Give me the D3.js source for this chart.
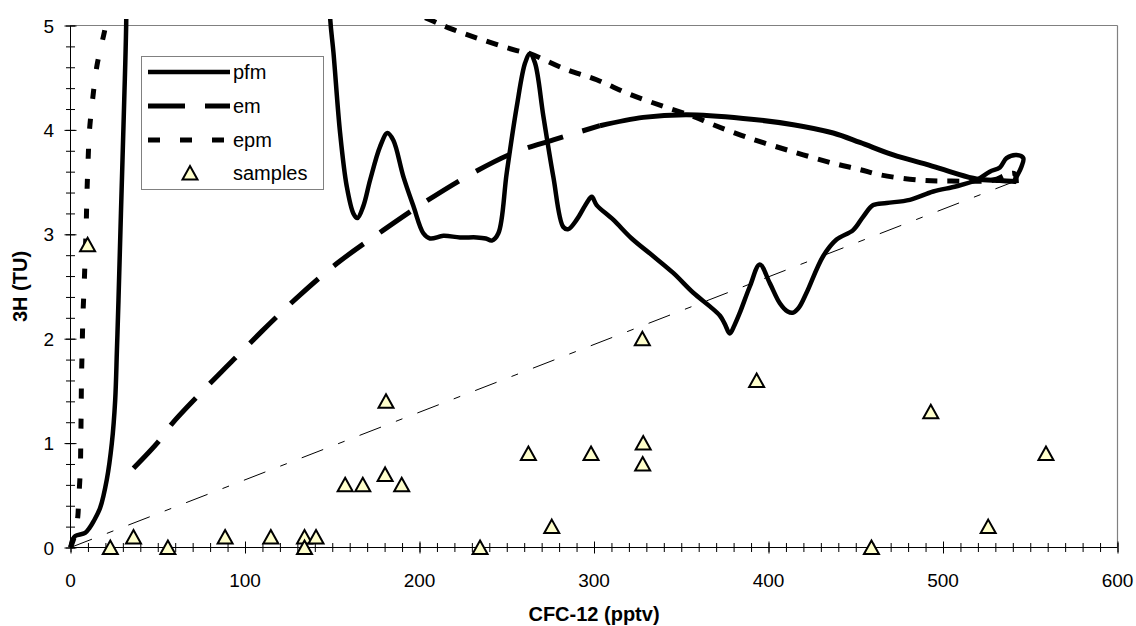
<!DOCTYPE html>
<html><head><meta charset="utf-8">
<script src="https://cdn.jsdelivr.net/npm/d3@7"></script>
<style>body{margin:0;background:#fff}svg{display:block;font-family:"Liberation Sans",Arial,sans-serif}</style>
</head><body><svg id="c" width="1136" height="626"></svg>
<script>
// ---- data ----
const pfmX = [0,1,2.7,8.4,11,13.2,17,20.8,23.7,25.6,26.6,27.5,28.9,30.8,31.9,34,60,100,135,146.5,148.8,150.7,154.5,158.3,162.1,164.4,167.8,171.7,177.4,181.6,185,190.8,196.5,202.2,206,213.7,223.2,232.8,238,241.4,245.2,250,255.7,260.5,263.3,266.2,271,276.7,282.4,285.3,290.1,295.8,298.7,301.5,311,321.6,334,345.4,356.9,366.4,372.2,375,377.8,380.5,383.6,389.3,395,400.8,406.5,411,414.2,417.5,421.8,431.3,439,448.5,454.3,460,467.7,481,494.4,507.8,519.2,526.8,532.6,536.4,542.1,546,545,542.1,540.2];
const pfmY = [0,0.07,0.11,0.14,0.19,0.25,0.38,0.65,1.0,1.41,1.89,2.37,3.2,4.29,5.0,8,40,45,15,6.2,5.07,4.74,3.97,3.46,3.2,3.155,3.27,3.52,3.84,3.97,3.9,3.55,3.27,3.01,2.96,2.985,2.97,2.97,2.96,2.94,3.01,3.59,4.22,4.64,4.73,4.64,4.13,3.55,3.07,3.05,3.14,3.30,3.36,3.28,3.14,2.96,2.79,2.63,2.44,2.31,2.22,2.14,2.05,2.13,2.25,2.5,2.71,2.53,2.34,2.26,2.25,2.3,2.44,2.79,2.95,3.04,3.17,3.28,3.30,3.33,3.41,3.46,3.52,3.60,3.64,3.73,3.76,3.73,3.65,3.55,3.49];
const emX = [36.1,50.4,58.1,86.7,95.3,109.6,118.2,131.6,152.6,179.3,203.2,230.9,253.8,276.7,303.4,328.2,353.1,385.5,414.2,437.1,452.4,471.5,490.6,505.8,519.2,532.6,542.1];
const emY = [0.76,1.015,1.185,1.686,1.83,2.07,2.21,2.42,2.72,3.04,3.31,3.59,3.78,3.905,4.04,4.12,4.145,4.11,4.05,3.97,3.88,3.76,3.67,3.59,3.53,3.515,3.505];
const epmX = [0,2.5,4.2,4.6,5.6,5.9,6.1,6.3,6.7,7.1,7.8,9.0,9.4,10,10.9,12.8,15.1,18.9,23,50,100,160,190,208,219.4,234.7,255.7,263.3,282.4,301.5,320.6,340.7,356.9,368.3,389.3,414.2,437.1,452.4,463.8,485.8,504.9,528.7,536.4,541,542,541];
const epmY = [0,0.12,0.3,0.43,0.74,1.02,1.31,1.62,1.92,2.21,2.5,3.09,3.37,3.67,4.0,4.31,4.61,4.9,5.2,6,6.3,5.8,5.2,5.04,4.96,4.87,4.76,4.73,4.59,4.48,4.34,4.22,4.13,4.05,3.92,3.79,3.68,3.62,3.57,3.52,3.51,3.52,3.57,3.58,3.45,3.52];
const refX = [0,540];
const refY = [0,3.5];
const sampleX = [9.8,22.8,36.1,55.8,88.6,114.8,134.1,134.1,140.7,157.4,167.5,180.3,180.8,189.8,234.7,262.4,275.8,298.3,328.2,327.9,327.7,393.2,459,493,525.9,559];
const sampleY = [2.9,0,0.1,0,0.1,0.1,0.1,0,0.1,0.6,0.6,0.7,1.4,0.6,0,0.9,0.2,0.9,1.0,0.8,2.0,1.6,0,1.3,0.2,0.9];
const xTicks = [0,100,200,300,400,500,600];
const yTicks = [0,1,2,3,4,5];
const legendLabels = ["pfm","em","epm","samples"];
const xTitle = "CFC-12 (pptv)";
const yTitle = "3H (TU)";

// ---- chart ----
const svg = d3.select("#c");
const x = d3.scaleLinear().domain([0,600]).range([70.5,1117.5]);
const y = d3.scaleLinear().domain([0,5]).range([547.5,25.5]);
const zip = (a,b)=>a.map((v,i)=>[v,b[i]]);

svg.append("line").attr("x1",x(0)).attr("x2",x(600)).attr("y1",y(5)).attr("y2",y(5)).attr("stroke","#808080").attr("stroke-width",1.2);
svg.append("line").attr("x1",x(600)).attr("x2",x(600)).attr("y1",y(5)).attr("y2",y(0)).attr("stroke","#808080").attr("stroke-width",1.2);

svg.append("defs").append("clipPath").attr("id","clip").append("rect").attr("x",0).attr("y",19).attr("width",1136).attr("height",600);

const g = svg.append("g").attr("clip-path","url(#clip)");
const line = d3.line().x(d=>x(d[0])).y(d=>y(d[1])).curve(d3.curveCatmullRom.alpha(0.5));

g.append("path").attr("d",d3.line().x(d=>x(d[0])).y(d=>y(d[1]))(zip(refX,refY)))
 .attr("fill","none").attr("stroke","#000").attr("stroke-width",1).attr("stroke-dasharray","23,16,7,16");
g.append("path").attr("d",line(zip(pfmX,pfmY))).attr("fill","none").attr("stroke","#000").attr("stroke-width",4.5).attr("stroke-linejoin","round");
const emPts = zip(emX,emY);
const emSplit = emX.findIndex(v=>v>=303.4);
g.append("path").attr("d",line(emPts.slice(0,emSplit+1))).attr("fill","none").attr("stroke","#000").attr("stroke-width",5).attr("stroke-dasharray","37,20");
g.append("path").attr("d",line(emPts.slice(emSplit))).attr("fill","none").attr("stroke","#000").attr("stroke-width",5);
const epmPts = zip(epmX,epmY);
const epmSplit = epmX.findIndex(v=>v>=23);
g.append("path").attr("d",line(epmPts.slice(0,epmSplit+1))).attr("fill","none").attr("stroke","#000").attr("stroke-width",5).attr("stroke-dasharray","10,20");
g.append("path").attr("d",line(epmPts.slice(epmSplit))).attr("fill","none").attr("stroke","#000").attr("stroke-width",5).attr("stroke-dasharray","12,10");

function axisPair(gen, pos, vals, size){
  svg.append("g").attr("transform",pos).call(gen[0].tickValues(vals).tickSize(size).tickFormat(""))
     .call(s=>s.select(".domain").remove());
  svg.append("g").attr("transform",pos).call(gen[1].tickValues(vals).tickSize(size).tickFormat(""))
     .call(s=>s.select(".domain").remove());
}
const xMinor = d3.range(0,601,10), yMinor = d3.range(0,5.01,0.2);
axisPair([d3.axisBottom(x),d3.axisTop(x)],`translate(0,${y(0)})`,xMinor,4.5);
axisPair([d3.axisBottom(x),d3.axisTop(x)],`translate(0,${y(0)})`,xTicks,6);
axisPair([d3.axisLeft(y),d3.axisRight(y)],`translate(${x(0)},0)`,yMinor,4.5);
axisPair([d3.axisLeft(y),d3.axisRight(y)],`translate(${x(0)},0)`,yTicks,6);
svg.selectAll(".tick line").attr("stroke","#000");
svg.append("line").attr("x1",x(0)).attr("x2",x(600)).attr("y1",y(0)).attr("y2",y(0)).attr("stroke","#000");
svg.append("line").attr("x1",x(0)).attr("x2",x(0)).attr("y1",y(0)).attr("y2",y(5)).attr("stroke","#000");

svg.append("g").selectAll("text").data(xTicks).join("text")
  .attr("x",d=>x(d)).attr("y",587).attr("text-anchor","middle").attr("font-size",19).text(d=>d);
svg.append("g").selectAll("text").data(yTicks).join("text")
  .attr("x",54).attr("y",d=>y(d)+7).attr("text-anchor","end").attr("font-size",19).text(d=>d);

svg.append("text").attr("x",(x(0)+x(600))/2).attr("y",621).attr("text-anchor","middle")
  .attr("font-size",20).attr("font-weight","bold").text(xTitle);
svg.append("text").attr("transform",`translate(27,${(y(0)+y(5))/2}) rotate(-90)`).attr("text-anchor","middle")
  .attr("font-size",20).attr("font-weight","bold").text(yTitle);

const tri = "M0,-7L7.5,6.5L-7.5,6.5Z";
svg.append("g").selectAll("path").data(zip(sampleX,sampleY)).join("path")
  .attr("d",tri).attr("transform",d=>`translate(${x(d[0])},${y(d[1])})`)
  .attr("fill","#ffffcc").attr("stroke","#000").attr("stroke-width",2);

const lg = svg.append("g");
lg.append("rect").attr("x",141.5).attr("y",56.5).attr("width",182).attr("height",133).attr("fill","#fff").attr("stroke","#808080");
const ly = [72,106,140,173];
const dashes = [null,"37,20","12,20"];
legendLabels.forEach((t,i)=>{
  if(i<3){
    lg.append("line").attr("x1",148).attr("x2",230).attr("y1",ly[i]).attr("y2",ly[i])
      .attr("stroke","#000").attr("stroke-width",i==0?4.5:5).attr("stroke-dasharray",dashes[i]);
  } else {
    lg.append("path").attr("d",tri).attr("transform",`translate(190,${ly[i]})`).attr("fill","#ffffcc").attr("stroke","#000").attr("stroke-width",2);
  }
  lg.append("text").attr("x",233).attr("y",ly[i]+7).attr("font-size",20).text(t);
});
</script></body></html>
